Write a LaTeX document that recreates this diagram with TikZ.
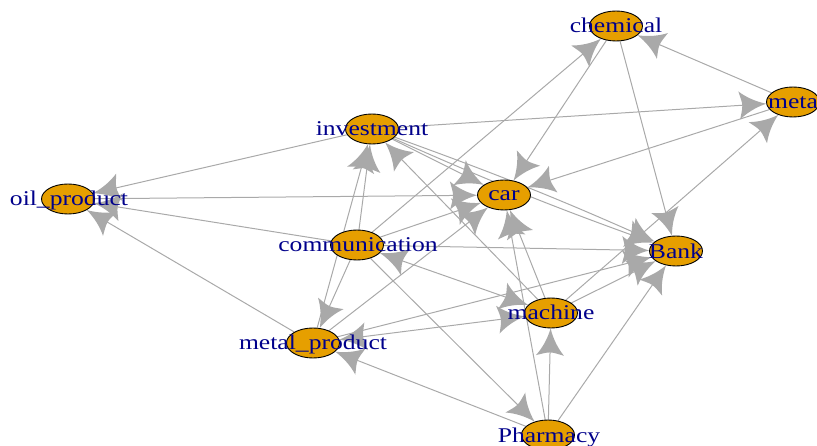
\documentclass[tikz,border=0pt]{standalone}
\usepackage{fontspec}
\setmainfont{Liberation Serif}
\usetikzlibrary{shapes.geometric,arrows.meta}
\definecolor{vfill}{HTML}{E69F00}
\definecolor{lblue}{HTML}{00008B}
\definecolor{egray}{HTML}{A9A9A9}
\pgfdeclarelayer{edgelayer}
\pgfsetlayers{edgelayer,main}
\pgfdeclarearrow{
  name=IgTip,
  setup code={
    \pgfarrowssettipend{0pt}
    \pgfarrowssetlineend{-20pt}
    \pgfarrowssetbackend{-27pt}
    \pgfarrowssetvisualbackend{-24pt}
    \pgfarrowshullpoint{0pt}{0pt}
    \pgfarrowshullpoint{-27pt}{14pt}
    \pgfarrowshullpoint{-27pt}{-14pt}
  },
  drawing code={
    \pgfpathmoveto{\pgfpoint{0pt}{0pt}}
    \pgfpathcurveto{\pgfpoint{-11pt}{3pt}}{\pgfpoint{-20pt}{8pt}}{\pgfpoint{-27pt}{14pt}}
    \pgfpathcurveto{\pgfpoint{-25.5pt}{8pt}}{\pgfpoint{-24pt}{4pt}}{\pgfpoint{-24pt}{0pt}}
    \pgfpathcurveto{\pgfpoint{-24pt}{-4pt}}{\pgfpoint{-25.5pt}{-8pt}}{\pgfpoint{-27pt}{-14pt}}
    \pgfpathcurveto{\pgfpoint{-20pt}{-8pt}}{\pgfpoint{-11pt}{-3pt}}{\pgfpoint{0pt}{0pt}}
    \pgfpathclose
    \pgfusepathqfill
  },
}
\tikzset{
  vtx/.style={ellipse, draw=black, line width=0.9pt, fill=vfill, minimum width=53pt, minimum height=30pt, inner sep=0pt},
  lbl/.style={text=lblue, font=\fontsize{21}{21}\selectfont, anchor=base, inner sep=0pt},
  edge/.style={color=egray, line width=1pt, -{IgTip[]}},
  edgetwo/.style={color=egray, line width=1pt, {IgTip[]}-{IgTip[]}}
}
\begin{document}
\begin{tikzpicture}[x=1pt,y=-1pt]
\useasboundingbox (0,0) rectangle (817,446);
% vertices
\node[vtx] (chem) at (616,26) {};
\node[vtx] (meta) at (793,102) {};
\node[vtx] (inv) at (372,129) {};
\node[vtx] (oil) at (68,199) {};
\node[vtx] (car) at (504,195) {};
\node[vtx] (com) at (357,245) {};
\node[vtx] (bank) at (676,251) {};
\node[vtx] (mach) at (551,313) {};
\node[vtx] (mp) at (313,343) {};
\node[vtx] (ph) at (548,435) {};
% labels
\node[lbl] (lchem) at (616,33) {\scalebox{1.22}[1]{chemical}};
\node[lbl] (lmeta) at (793,109) {\scalebox{1.22}[1]{meta}};
\node[lbl] (linv) at (372,136) {\scalebox{1.22}[1]{investment}};
\node[lbl] (loil) at (69,206) {\scalebox{1.22}[1]{oil\_product}};
\node[lbl] (lcar) at (504,201) {\scalebox{1.22}[1]{car}};
\node[lbl] (lcom) at (358,252) {\scalebox{1.22}[1]{communication}};
\node[lbl] (lbank) at (676,259) {\scalebox{1.22}[1]{Bank}};
\node[lbl] (lmach) at (551,320) {\scalebox{1.22}[1]{machine}};
\node[lbl] (lmp) at (313,350) {\scalebox{1.22}[1]{metal\_product}};
\node[lbl] (lph) at (549,442) {\scalebox{1.22}[1]{Pharmacy}};
% edges
\begin{pgfonlayer}{edgelayer}
\draw[edge] (inv) -- (oil);
\draw[edge] (oil) -- (car);
\draw[edge] (com) -- (oil);
\draw[edge] (mp) -- (oil);
\draw[edge] (com) -- (inv);
\draw[edge] (mp) -- (inv);
\draw[edge] (com) -- (mp);
\draw[edge] (inv) -- (car);
\draw[edge] (inv) to[bend left=2] (bank);
\draw[edge] (inv) to[bend right=2] (bank);
\draw[edge] (mach) -- (inv);
\draw[edge] (inv) -- (meta);
\draw[edge] (chem) -- (car);
\draw[edge] (meta) -- (car);
\draw[edge] (com) -- (car);
\draw[edge] (mp) -- (car);
\draw[edge] (mach) -- (car);
\draw[edge] (ph) -- (car);
\draw[edge] (com) -- (chem);
\draw[edge] (meta) -- (chem);
\draw[edge] (chem) -- (bank);
\draw[edge] (com) -- (bank);
\draw[edge] (mp) -- (bank);
\draw[edge] (mach) -- (bank);
\draw[edge] (ph) -- (bank);
\draw[edge] (mach) -- (meta);
\draw[edgetwo] (com) -- (mach);
\draw[edgetwo] (mp) -- (mach);
\draw[edge] (ph) -- (mp);
\draw[edge] (com) -- (ph);
\draw[edge] (ph) -- (mach);
\end{pgfonlayer}
\end{tikzpicture}
\end{document}
